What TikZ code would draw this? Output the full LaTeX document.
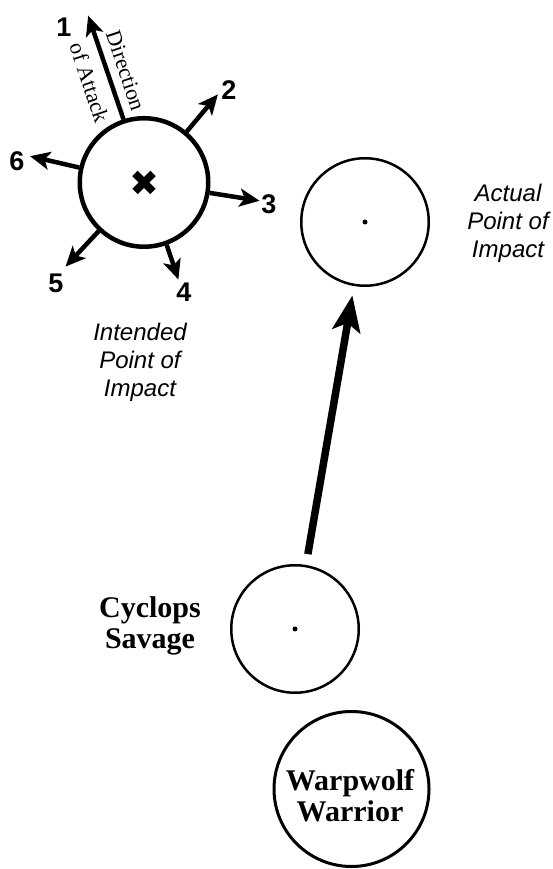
\documentclass[tikz,border=0pt]{standalone}
\usepackage{fontspec}
\setmainfont{Liberation Serif}
\newfontfamily\labelsans{Liberation Sans}
\usetikzlibrary{arrows.meta,calc}

\begin{document}
\begin{tikzpicture}[x=1pt, y=1pt,
    base/.style={circle, draw, inner sep=0pt, minimum size=127.5pt, line width=2.5pt},
    spoke/.style={line width=4.5pt, -{Stealth[length=20pt, width=18pt, inset=5pt]}},
    num/.style={font=\labelsans\bfseries\fontsize{27}{27}\selectfont, inner sep=0pt},
    note/.style={font=\labelsans\itshape\fontsize{24}{28}\selectfont, align=center, inner sep=0pt},
    model/.style={font=\bfseries\fontsize{30}{31}\selectfont, align=center, inner sep=0pt},
    attack/.style={font=\fontsize{22}{22}\selectfont, inner sep=0pt, rotate=-71.5}]

    \useasboundingbox (0,0) rectangle (553,869);

    % Bases
    \node[base, line width=4.5pt, minimum size=128.5pt] (intended) at (144,686.5) {};
    \node[base] (actual) at (365,647) {};
    \node[base] (cyclops) at (295,240) {};
    \node[base, line width=3pt, minimum size=155pt] (warpwolf) at (351.5,80) {};

    % Centre marks
    \fill (actual.center) circle[radius=2.5pt];
    \fill (cyclops.center) circle[radius=2.5pt];
    \draw[line width=7.5pt] ($(intended.center)+(-9,-9)$) -- ($(intended.center)+(9,9)$);
    \draw[line width=7.5pt] ($(intended.center)+(-9,9)$) -- ($(intended.center)+(9,-9)$);

    % Deviation directions
    \foreach \ang/\len/\n in {108.5/176/1, 50/115/2, -9/117/3, -70.5/103/4, -133/115/5, 167/117/6}{
      \coordinate (tip\n) at ($(intended.center)+(\ang:\len)$);
      \draw[spoke] (intended.\ang) -- (tip\n);
    }

    % Direction numbers
    \node[num] (n1) at (64,842) {1};
    \node[num] (n2) at (229,779) {2};
    \node[num] (n3) at (269,665) {3};
    \node[num] (n4) at (184,577) {4};
    \node[num] (n5) at (56,586) {5};
    \node[num] (n6) at (17,708) {6};

    % Direction of attack
    \node[attack] (dir) at ($(intended.center)+(108.5:112)+(18.5:18)$) {Direction};
    \node[attack] (of) at ($(intended.center)+(108.5:112)+(198.5:20)$) {of Attack};

    % Labels
    \node[note] (intended text) at (140,507) {Intended\\Point of\\Impact};
    \node[note] (actual text) at (508,646) {Actual\\Point of\\Impact};
    \node[model] (cyclops text) at (150,243.5) {Cyclops\\Savage};
    \node[model] (warpwolf text) at (350,73) {Warpwolf\\Warrior};

    % Deviation
    \draw[line width=7.5pt, -{Stealth[length=36pt, width=28pt, inset=8pt]},
          shorten <=11pt, shorten >=9.5pt] (cyclops) -- (actual);

\end{tikzpicture}
\end{document}
